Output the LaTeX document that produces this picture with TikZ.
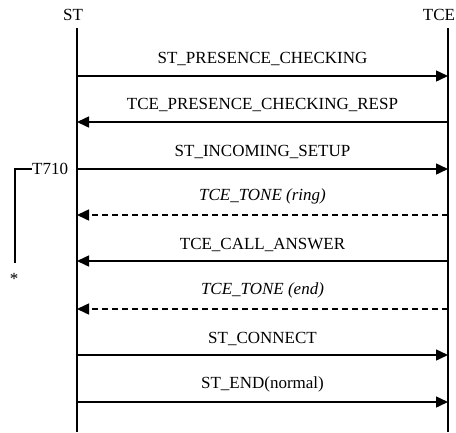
\documentclass[tikz,border=0pt]{standalone}
\usepackage{fontspec}
\setmainfont{Liberation Serif}
\usetikzlibrary{arrows.meta}
\begin{document}
\begin{tikzpicture}[x=1pt,y=-1pt,
  lifeline/.style={line width=2.2pt},
  msg/.style={line width=1.5pt,-{Triangle[length=12pt,width=11pt]}},
  dmsg/.style={msg,dash pattern=on 6pt off 4pt},
  lbl/.style={font=\fontsize{17}{20}\selectfont,inner sep=0pt},
  ilbl/.style={font=\fontsize{17}{20}\selectfont\itshape,inner sep=0pt}]
\useasboundingbox (0,0) rectangle (456,432);
% lifelines
\node[lbl] (st) at (73,14.5) {ST};
\node[lbl] (tce) at (439,14.5) {TCE};
\coordinate (sttop) at (77,28);
\coordinate (stbot) at (77,432);
\coordinate (tcetop) at (448,28);
\coordinate (tcebot) at (448,432);
\draw[lifeline] (sttop) -- (stbot);
\draw[lifeline] (tcetop) -- (tcebot);
% message endpoints
\foreach \n/\y in {1/76,2/122,3/169,4/215,5/261,6/309,7/355,8/402}{
  \coordinate (l\n) at (77,\y);
  \coordinate (r\n) at (448,\y);
}
\draw[msg] (l1) -- (r1) node[lbl,midway,above=10pt] (m1) {ST\_PRESENCE\_CHECKING};
\draw[msg] (r2) -- (l2) node[lbl,midway,above=10pt] (m2) {TCE\_PRESENCE\_CHECKING\_RESP};
\draw[msg] (l3) -- (r3) node[lbl,midway,above=10pt] (m3) {ST\_INCOMING\_SETUP};
\draw[dmsg] (r4) -- (l4) node[ilbl,midway,above=10pt] (m4) {TCE\_TONE (ring)};
\draw[msg] (r5) -- (l5) node[lbl,midway,above=9pt] (m5) {TCE\_CALL\_ANSWER};
\draw[dmsg] (r6) -- (l6) node[ilbl,midway,above=10pt] (m6) {TCE\_TONE (end)};
\draw[msg] (l7) -- (r7) node[lbl,midway,above=9pt] (m7) {ST\_CONNECT};
\draw[msg] (l8) -- (r8) node[lbl,midway,above=9pt] (m8) {ST\_END(normal)};
% timer
\node[lbl,anchor=west] (t710) at (32,169) {T710};
\coordinate (tbot) at (15,263);
\draw[line width=2pt] (tbot) |- (t710.west);
\node[lbl] (star) at (14,279) {*};
\end{tikzpicture}
\end{document}
